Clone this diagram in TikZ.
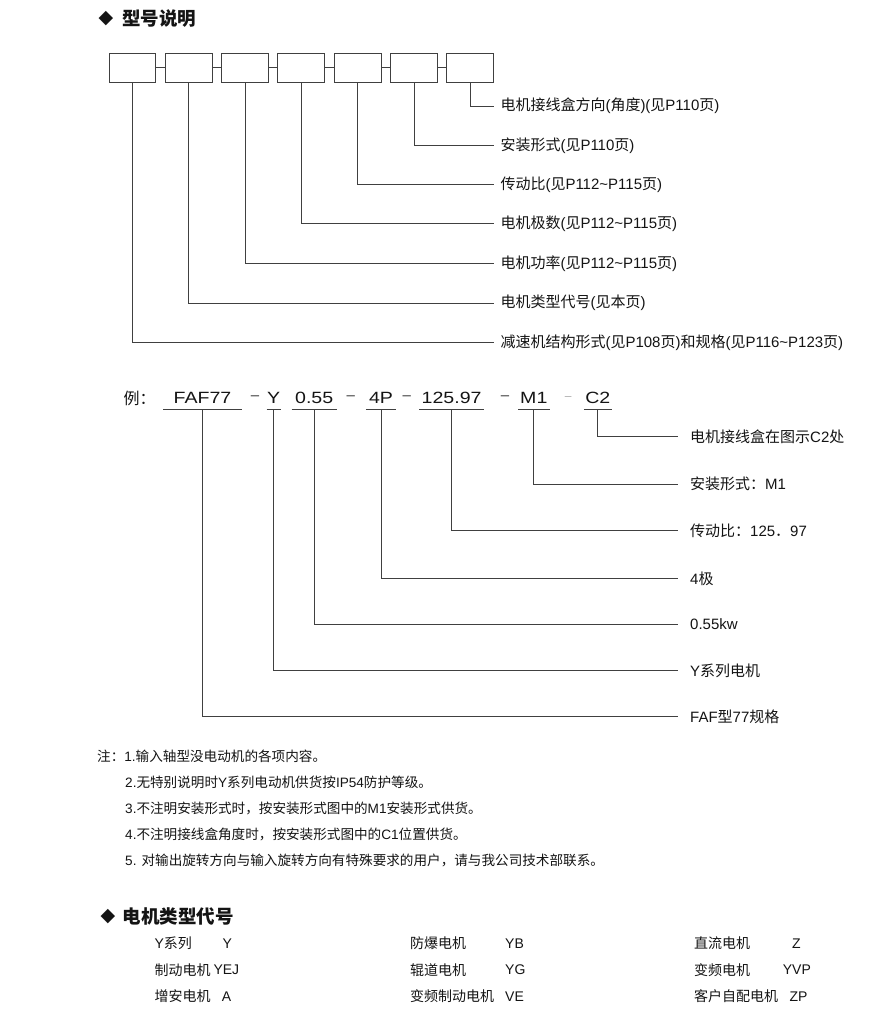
\documentclass[tikz,border=0pt]{standalone}
\usepackage{fontspec}
\setmainfont{Liberation Sans}
\newfontfamily\cjkfam{Noto Sans CJK SC}
\newfontfamily\exfont[FakeStretch=1.2]{Liberation Sans}
\newfontfamily\symfont{DejaVu Sans}
\XeTeXinterchartokenstate=1
\chardef\cjkcls=50
\newcount\cjkc
\cjkc="3000 \loop\XeTeXcharclass\cjkc=\cjkcls\ifnum\cjkc<"303F\advance\cjkc by 1\repeat
\cjkc="4E00 \loop\XeTeXcharclass\cjkc=\cjkcls\ifnum\cjkc<"9FFF\advance\cjkc by 1\repeat
\cjkc="FF00 \loop\XeTeXcharclass\cjkc=\cjkcls\ifnum\cjkc<"FFEF\advance\cjkc by 1\repeat
\def\latfam{\rmfamily}
\XeTeXinterchartoks 0 \cjkcls = {\cjkfam}
\XeTeXinterchartoks 4095 \cjkcls = {\cjkfam}
\XeTeXinterchartoks \cjkcls 0 = {\latfam}
\XeTeXinterchartoks \cjkcls 4095 = {\latfam}
\definecolor{ink}{HTML}{141414}
\definecolor{wire}{HTML}{404040}
\tikzset{
  mbox/.style={draw=wire,line width=1pt,minimum width=46.7pt,minimum height=29pt,inner sep=0pt},
  ln/.style={draw=wire,line width=1pt},
  lab/.style={anchor=west,inner xsep=6pt,inner ysep=0pt,text=ink,font=\fontsize{15}{18}\selectfont},
  exlab/.style={anchor=west,inner xsep=12.3pt,inner ysep=0pt,text=ink,font=\fontsize{15}{18}\selectfont},
  tok/.style={inner sep=0pt,minimum height=22.6pt,text=ink,font=\exfont\fontsize{16.3}{19}\selectfont},
  dashtok/.style={inner sep=0pt,text=ink,font=\exfont\fontsize{12.5}{15}\selectfont},
  hd/.style={anchor=west,inner sep=0pt,text=ink,font=\bfseries\fontsize{18.5}{22}\selectfont},
  dia/.style={inner sep=0pt,text=ink,font=\symfont\fontsize{19}{22}\selectfont},
  note/.style={anchor=west,inner sep=0pt,text=ink,font=\fontsize{13.6}{16}\selectfont},
  tab/.style={anchor=west,inner sep=0pt,text=ink,font=\fontsize{14}{17}\selectfont}
}
\begin{document}
\begin{tikzpicture}[x=1pt,y=-1pt]
\useasboundingbox[fill=white] (0,0) rectangle (890,1015);
% header 1
\node[dia] (d1h) at (106,18.5) {◆};
\node[hd] (h1) at (122,18.5) {型号说明};
% boxes
\foreach \i in {1,...,7}{
  \node[mbox] (b\i) at ({132.35+56.33*(\i-1)},67.8) {};
}
\foreach \i/\j in {1/2,2/3,3/4,4/5,5/6,6/7}{
  \draw[ln] (b\i.east) -- (b\j.west);
}
% labels
\node[lab] (l7) at (494.3,106) {电机接线盒方向(角度)(见P110页)};
\node[lab] (l6) at (494.3,145.3) {安装形式(见P110页)};
\node[lab] (l5) at (494.3,184.7) {传动比(见P112\textasciitilde P115页)};
\node[lab] (l4) at (494.3,223.7) {电机极数(见P112\textasciitilde P115页)};
\node[lab] (l3) at (494.3,263.3) {电机功率(见P112\textasciitilde P115页)};
\node[lab] (l2) at (494.3,303) {电机类型代号(见本页)};
\node[lab] (l1) at (494.3,342.7) {减速机结构形式(见P108页)和规格(见P116\textasciitilde P123页)};
\foreach \i in {1,...,7}{
  \draw[ln] (b\i.south) |- (l\i.west);
}
% example row
\node[anchor=west,inner sep=0pt,text=ink,font=\fontsize{16}{19}\selectfont] (ex) at (123.3,398) {例：};
\node[tok,minimum width=78.4pt] (e1) at (202.5,398) {FAF77};
\node[dashtok] (m1) at (255,398) {–};
\node[tok,minimum width=14pt] (e2) at (273.7,398) {Y};
\node[tok,minimum width=45pt] (e3) at (314.2,398) {0.55};
\node[dashtok] (m2) at (350.7,398) {–};
\node[tok,minimum width=30pt] (e4) at (381,398) {4P};
\node[dashtok] (m3) at (406.7,398) {–};
\node[tok,minimum width=64.7pt] (e5) at (451.65,398) {125.97};
\node[dashtok] (m4) at (505,398) {–};
\node[tok,minimum width=31pt] (e6) at (533.8,398) {M1};
\node[dashtok,text=black!40,font=\exfont\fontsize{10}{12}\selectfont] (m5) at (568.3,398) {–};
\node[tok,minimum width=27.7pt] (e7) at (597.85,398) {C2};
\foreach \i in {1,...,7}{
  \draw[ln] (e\i.south west) -- (e\i.south east);
}
\node[exlab] (x7) at (677.7,436.7) {电机接线盒在图示C2处};
\node[exlab] (x6) at (677.7,484) {安装形式：M1};
\node[exlab] (x5) at (677.7,530.7) {传动比：125．97};
\node[exlab] (x4) at (677.7,578.3) {4极};
\node[exlab] (x3) at (677.7,624) {0.55kw};
\node[exlab] (x2) at (677.7,670.7) {Y系列电机};
\node[exlab] (x1) at (677.7,716.7) {FAF型77规格};
\foreach \i in {1,...,7}{
  \draw[ln] (e\i.south) |- (x\i.west);
}
% notes
\node[note] (n1) at (97,756) {注：1.输入轴型没电动机的各项内容。};
\node[note] (n2) at (125,782.3) {2.无特别说明时Y系列电动机供货按IP54防护等级。};
\node[note] (n3) at (125,808.5) {3.不注明安装形式时，按安装形式图中的M1安装形式供货。};
\node[note] (n4) at (125,834.5) {4.不注明接线盒角度时，按安装形式图中的C1位置供货。};
\node[note] (n5) at (125,860.7) {5. 对输出旋转方向与输入旋转方向有特殊要求的用户，请与我公司技术部联系。};
% header 2
\node[dia] (d2h) at (108,916.7) {◆};
\node[hd] (h2) at (122.3,916.7) {电机类型代号};
% table
\node[tab] (t11) at (154.3,943.3) {Y系列};
\node[tab] (c11) at (222.5,943.3) {Y};
\node[tab] (t12) at (154.3,970) {制动电机};
\node[tab] (c12) at (213.3,970) {YEJ};
\node[tab] (t13) at (154.3,996.5) {增安电机};
\node[tab] (c13) at (221.7,996.5) {A};
\node[tab] (t21) at (410,943.3) {防爆电机};
\node[tab] (c21) at (505,943.3) {YB};
\node[tab] (t22) at (410,970) {辊道电机};
\node[tab] (c22) at (505,970) {YG};
\node[tab] (t23) at (410,996.5) {变频制动电机};
\node[tab] (c23) at (505,996.5) {VE};
\node[tab] (t31) at (694,943.3) {直流电机};
\node[tab] (c31) at (792,943.3) {Z};
\node[tab] (t32) at (694,970) {变频电机};
\node[tab] (c32) at (782.7,970) {YVP};
\node[tab] (t33) at (694,996.5) {客户自配电机};
\node[tab] (c33) at (789.3,996.5) {ZP};
\end{tikzpicture}
\end{document}
